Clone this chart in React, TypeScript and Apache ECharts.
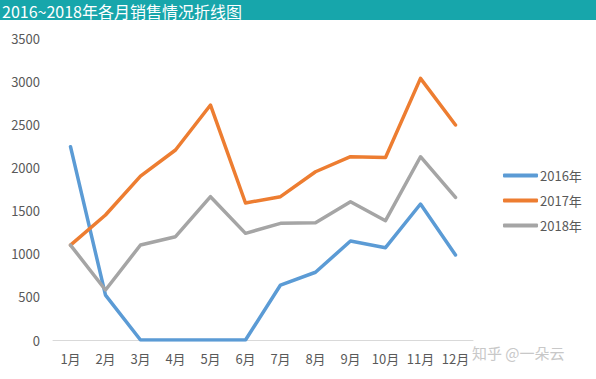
import React, { useEffect, useRef } from "react";
import * as echarts from "echarts";

const months = ["1月", "2月", "3月", "4月", "5月", "6月", "7月", "8月", "9月", "10月", "11月", "12月"];
const seriesNames = ["2016年", "2017年", "2018年"];
const sales2016 = [2240, 520, 0, 0, 0, 0, 637, 785, 1147, 1070, 1576, 985];
const sales2017 = [1100, 1449, 1900, 2202, 2723, 1588, 1661, 1950, 2124, 2116, 3032, 2492];
const sales2018 = [1100, 580, 1101, 1197, 1661, 1236, 1352, 1360, 1603, 1383, 2124, 1653];
const colors = ["#5B9BD5", "#ED7D31", "#A5A5A5"];
const titleText = "2016~2018年各月销售情况折线图";
const watermark = "知乎 @一朵云";

export default function App() {
  const ref = useRef<HTMLDivElement>(null);
  useEffect(() => {
    if (!ref.current) return;
    const chart = echarts.init(ref.current, null, { renderer: "svg" });
    const font = "'Noto Sans CJK SC', sans-serif";
    const data = [sales2016, sales2017, sales2018];
    chart.setOption({
      animation: false,
      backgroundColor: "#ffffff",
      color: colors,
      textStyle: { fontFamily: font },
      grid: { left: 53, right: 123, top: 38, bottom: 39 },
      legend: {
        orient: "vertical",
        left: 498,
        top: 164,
        itemWidth: 35,
        itemHeight: 4,
        itemGap: 12,
        icon: "roundRect",
        textStyle: { color: "#595959", fontSize: 13, fontFamily: font, padding: [0, 0, 0, -3] },
        data: seriesNames,
      },
      xAxis: {
        type: "category",
        data: months,
        boundaryGap: true,
        axisLine: { show: true, lineStyle: { color: "#D9D9D9", width: 1 } },
        axisTick: { show: false },
        axisLabel: { color: "#595959", fontSize: 13, margin: 12, interval: 0, fontFamily: font },
      },
      yAxis: {
        type: "value",
        min: 0,
        max: 3500,
        interval: 500,
        axisLine: { show: false },
        axisTick: { show: false },
        splitLine: { show: false },
        axisLabel: {
          color: "#595959",
          fontSize: 13,
          margin: 13,
          fontFamily: font,
          formatter: (v: number) => String(v),
        },
      },
      graphic: [
        { type: "rect", x: 0, y: 0, shape: { width: 596, height: 20 }, style: { fill: "#17A6AB" }, z: 10 },
        {
          type: "text",
          x: 2,
          y: 11,
          style: {
            text: titleText,
            fill: "#ffffff",
            fontSize: 16,
            lineHeight: 16,
            fontFamily: font,
            verticalAlign: "middle",
            align: "left",
          },
          z: 11,
        },
        {
          type: "text",
          x: 472,
          y: 352,
          style: {
            text: watermark,
            fill: "#C8C8C8",
            fontSize: 15,
            fontFamily: font,
            verticalAlign: "middle",
            align: "left",
          },
          z: 11,
        },
      ],
      series: seriesNames.map((name, i) => ({
        name,
        type: "line",
        data: data[i],
        symbol: "none",
        lineStyle: { width: 3.5, color: colors[i], cap: "round", join: "round" },
        itemStyle: { color: colors[i] },
      })),
    });
    return () => chart.dispose();
  }, []);
  return <div ref={ref} style={{ position: "fixed", left: 0, top: 0, width: 596, height: 379 }} />;
}
